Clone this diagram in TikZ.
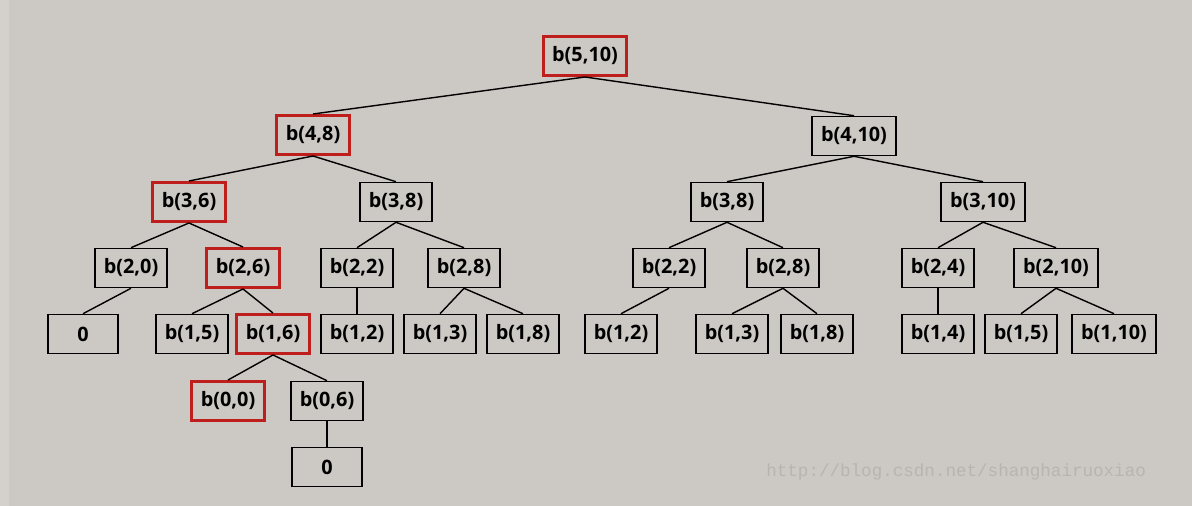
\documentclass[tikz,border=0pt]{standalone}
\usepackage{fontspec}
\setmainfont{Open Sans}
\setmonofont{Liberation Mono}
\definecolor{bg}{RGB}{204,200,196}
\definecolor{strip}{RGB}{212,209,205}
\definecolor{hl}{RGB}{190,30,28}
\definecolor{wm}{RGB}{184,180,176}
\begin{document}
\begin{tikzpicture}[x=0.02cm,y=-0.02cm,
  nd/.style={draw=black,line width=0.9pt,minimum width=1.4cm,minimum height=0.78cm,inner xsep=0.18cm,font=\fontsize{11.3}{13}\selectfont\bfseries},
  hi/.style={nd,draw=hl,line width=1.7pt},
  ed/.style={line width=0.8pt}]
\fill[bg] (0,0) rectangle (1192,506);
\fill[strip] (0,0) rectangle (9,506);
\useasboundingbox (0,0) rectangle (1192,506);
% nodes
\node[hi] (r) at (585,56) {b(5,10)};
\node[hi] (a) at (313,135) {b(4,8)};
\node[nd] (b) at (854,136) {b(4,10)};
\node[hi] (a1) at (189,202) {b(3,6)};
\node[nd] (a2) at (396,202) {b(3,8)};
\node[nd] (b1) at (727,202) {b(3,8)};
\node[nd] (b2) at (983,202) {b(3,10)};
\node[nd] (c1) at (131,268) {b(2,0)};
\node[hi] (c2) at (243,268) {b(2,6)};
\node[nd] (c3) at (357,268) {b(2,2)};
\node[nd] (c4) at (464,268) {b(2,8)};
\node[nd] (c5) at (669,268) {b(2,2)};
\node[nd] (c6) at (783,268) {b(2,8)};
\node[nd] (c7) at (938,268) {b(2,4)};
\node[nd] (c8) at (1056,268) {b(2,10)};
\node[nd] (d1) at (83,334) {0};
\node[nd] (d2) at (192,334) {b(1,5)};
\node[hi] (d3) at (273,334) {b(1,6)};
\node[nd] (d4) at (357,334) {b(1,2)};
\node[nd] (d5) at (440,334) {b(1,3)};
\node[nd] (d6) at (523,334) {b(1,8)};
\node[nd] (d7) at (621,334) {b(1,2)};
\node[nd] (d8) at (732,334) {b(1,3)};
\node[nd] (d9) at (817,334) {b(1,8)};
\node[nd] (d10) at (938,334) {b(1,4)};
\node[nd] (d11) at (1021,334) {b(1,5)};
\node[nd] (d12) at (1114,334) {b(1,10)};
\node[hi] (e1) at (228,401) {b(0,0)};
\node[nd] (e2) at (327,401) {b(0,6)};
\node[nd] (f1) at (327,467) {0};
% edges
\foreach \p/\c in {r/a,r/b,a/a1,a/a2,b/b1,b/b2,a1/c1,a1/c2,a2/c3,a2/c4,b1/c5,b1/c6,b2/c7,b2/c8,
  c1/d1,c2/d2,c2/d3,c3/d4,c4/d5,c4/d6,c5/d7,c6/d8,c6/d9,c7/d10,c8/d11,c8/d12,d3/e1,d3/e2,e2/f1}
  \draw[ed] (\p.south) -- (\c.north);
\node[text=wm,font=\ttfamily\fontsize{10}{12}\selectfont,anchor=west,inner sep=0] (w) at (766,472) {http://blog.csdn.net/shanghairuoxiao};
\end{tikzpicture}
\end{document}
